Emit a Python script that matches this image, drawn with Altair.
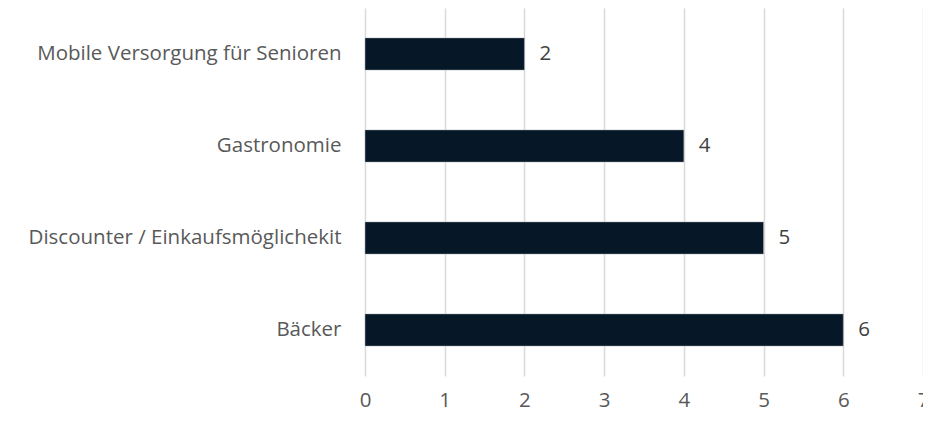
import altair as alt
import pandas as pd

categories = ["Mobile Versorgung für Senioren", "Gastronomie", "Discounter / Einkaufsmöglichekit", "Bäcker"]
values = [2, 4, 5, 6]
x_ticks = [0, 1, 2, 3, 4, 5, 6, 7]

df = pd.DataFrame({"cat": categories, "val": values})

FONT = "Open Sans"
FS = 20.5

y_enc = alt.Y("cat:N", sort=categories, title=None,
              scale=alt.Scale(paddingInner=0.65, paddingOuter=0.325),
              axis=alt.Axis(domain=False, ticks=False, labelPadding=24,
                            labelFontSize=FS, labelColor="#595959", labelFont=FONT,
                            labelLimit=400))
x_enc = alt.X("val:Q", title=None,
              scale=alt.Scale(domain=[0, 7], nice=False),
              axis=alt.Axis(values=x_ticks, format="d", domain=False, ticks=False, labelPadding=14,
                            labelFontSize=FS, labelColor="#595959", labelFont=FONT,
                            grid=True, gridColor="#d9d9d9", gridWidth=1.5,
                            labelFlush=False, labelOverlap=False))

bars = alt.Chart(df).mark_bar(color="#061828", stroke="#b0b4b8", strokeWidth=0.5).encode(y=y_enc, x=x_enc)
text = alt.Chart(df).mark_text(align="left", dx=15, fontSize=FS, color="#404040", font=FONT).encode(
    y=alt.Y("cat:N", sort=categories), x="val:Q", text="val:Q")

chart = (bars + text).properties(
    width=558, height=368,
    autosize=alt.AutoSizeParams(type="none"),
    padding={"left": 357, "top": 0, "right": 0, "bottom": 38},
).configure_view(stroke=None)

chart.save("out.html", embed_options={"renderer": "svg", "actions": False})
